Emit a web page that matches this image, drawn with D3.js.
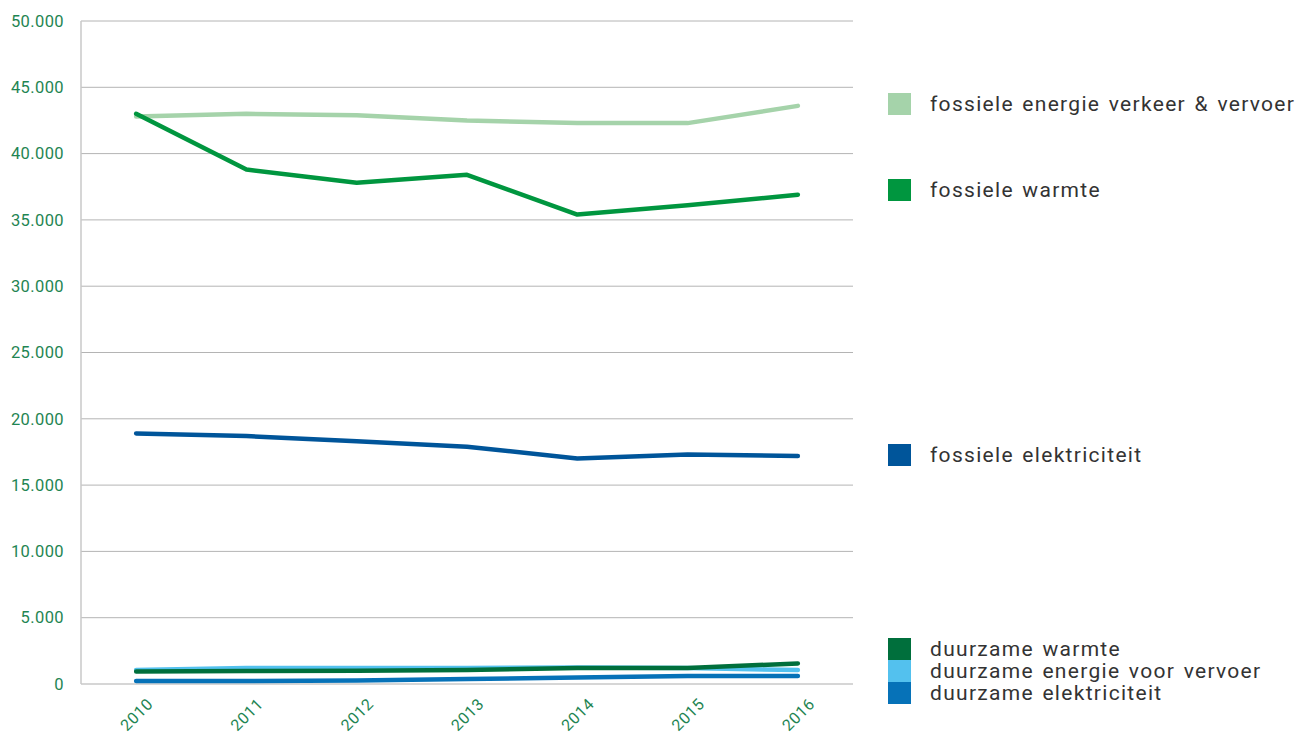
<!DOCTYPE html>
<html>
<head>
<meta charset="utf-8">
<script src="https://cdn.jsdelivr.net/npm/d3@7"></script>
<style>
  body { margin: 0; background: #fff; }
  svg text { font-family: "Roboto", "DejaVu Sans", sans-serif; }
</style>
</head>
<body>
<svg id="chart"></svg>
<script>
// Data.
const years = ["2010", "2011", "2012", "2013", "2014", "2015", "2016"];
const fossielVerkeer = [42800, 43000, 42900, 42500, 42300, 42300, 43600];
const fossielWarmte = [43000, 38800, 37800, 38400, 35400, 36100, 36900];
const fossielElektriciteit = [18900, 18700, 18300, 17900, 17000, 17300, 17200];
const duurzaamElektriciteit = [230, 230, 260, 380, 490, 600, 600];
const duurzaamVervoer = [1050, 1200, 1200, 1200, 1250, 1200, 1050];
const duurzaamWarmte = [940, 980, 1000, 1050, 1200, 1200, 1550];
const yTicks = [0, 5000, 10000, 15000, 20000, 25000, 30000, 35000, 40000, 45000, 50000];

const series = [
    { name: "fossiele energie verkeer & vervoer", values: fossielVerkeer, color: "#a5d3aa", legendY: 104 },
    { name: "fossiele warmte", values: fossielWarmte, color: "#00963f", legendY: 190 },
    { name: "fossiele elektriciteit", values: fossielElektriciteit, color: "#00559a", legendY: 455 },
    { name: "duurzame elektriciteit", values: duurzaamElektriciteit, color: "#0672b8", legendY: 693 },
    { name: "duurzame energie voor vervoer", values: duurzaamVervoer, color: "#53c1ee", legendY: 671 },
    { name: "duurzame warmte", values: duurzaamWarmte, color: "#006f3c", legendY: 649 }
];

const width = 1301, height = 738;
const m = { left: 81, right: 853, top: 21, bottom: 684 }; // plot edges in px

const svg = d3.select("#chart").attr("width", width).attr("height", height);

const x = d3.scalePoint().domain(years).range([m.left, m.right]).padding(0.5);
const y = d3.scaleLinear().domain([0, 50000]).range([m.bottom, m.top]);

// horizontal gridlines
svg.append("g")
    .selectAll("line")
    .data(yTicks)
    .join("line")
    .attr("x1", m.left).attr("x2", m.right)
    .attr("y1", d => y(d)).attr("y2", d => y(d))
    .attr("stroke", d => d === 0 ? "#c8c8c8" : "#b4b4b4")
    .attr("stroke-width", d => d === 0 ? 1.5 : 1);

// left axis line
svg.append("line")
    .attr("x1", m.left).attr("x2", m.left)
    .attr("y1", m.top).attr("y2", m.bottom)
    .attr("stroke", "#c8c8c8").attr("stroke-width", 1.5);

const fmt = d => d === 0 ? "0" : d3.format(",")(d).replace(/,/g, ".");

svg.append("g")
    .selectAll("text")
    .data(yTicks)
    .join("text")
    .attr("x", 64)
    .attr("y", d => y(d))
    .attr("dy", "0.35em")
    .attr("text-anchor", "end")
    .attr("fill", "#1f8553")
    .attr("font-size", 16.5)
    .attr("letter-spacing", 0.4)
    .text(fmt);

svg.append("g")
    .selectAll("text")
    .data(years)
    .join("text")
    .attr("transform", d => `translate(${x(d) + 10},${697}) rotate(-45)`)
    .attr("text-anchor", "end")
    .attr("dy", "0.7em")
    .attr("fill", "#1f8553")
    .attr("font-size", 16)
    .attr("letter-spacing", 0.6)
    .text(d => d);

const line = d3.line()
    .x((d, i) => x(years[i]))
    .y(d => y(d));

svg.append("g")
    .selectAll("path")
    .data(series)
    .join("path")
    .attr("d", d => line(d.values))
    .attr("fill", "none")
    .attr("stroke", d => d.color)
    .attr("stroke-width", 4.5)
    .attr("stroke-linecap", "round")
    .attr("stroke-linejoin", "round");

// legend
const legend = svg.append("g")
    .selectAll("g")
    .data(series)
    .join("g")
    .attr("transform", d => `translate(888,${d.legendY})`);

legend.append("rect")
    .attr("x", 0).attr("y", -11)
    .attr("width", 23).attr("height", 22)
    .attr("fill", d => d.color);

legend.append("text")
    .attr("x", 42)
    .attr("y", 0)
    .attr("dy", "0.35em")
    .attr("font-size", 21)
    .attr("letter-spacing", 1.3)
    .attr("word-spacing", 2)
    .attr("fill", "#333")
    .text(d => d.name);
</script>
</body>
</html>
